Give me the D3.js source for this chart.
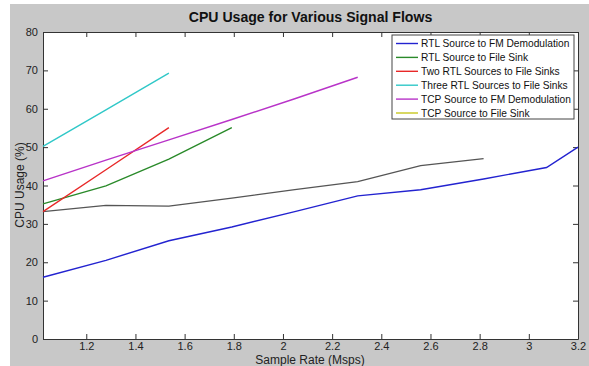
<!DOCTYPE html>
<html><head><meta charset="utf-8">
<script src="https://cdn.jsdelivr.net/npm/d3@7"></script>
<style>body{margin:0;background:#fff;}svg{display:block;font-family:Arial,"Liberation Sans",sans-serif;}</style>
</head><body>
<svg id="c" width="589" height="366"></svg>
<script>
const rates = [1.024, 1.28, 1.536, 1.792, 2.048, 2.304, 2.56, 2.816, 3.072, 3.2];
const seriesNames = ["RTL Source to FM Demodulation","RTL Source to File Sink","Two RTL Sources to File Sinks","Three RTL Sources to File Sinks","TCP Source to FM Demodulation","TCP Source to File Sink"];
const seriesColors = ["#2323d0","#2a8a2a","#e82828","#30c8c8","#b833c8","#c8c820"];
const rtlFm = [16.1, 20.5, 25.6, 29.2, 33.2, 37.3, 38.9, 41.7, 44.7, 50];
const rtlFile = [35.2, 39.9, 46.9, 55.1];
const twoRtl = [33.2, 44.1, 55.1];
const threeRtl = [50.2, 59.7, 69.3];
const tcpFm = [41.2, 46.6, 51.9, 57.2, 62.6, 68.2];
const extraGray = [33.2, 34.8, 34.6, 36.7, 38.9, 41.0, 45.2, 47.0];
const xTicks = [1.2, 1.4, 1.6, 1.8, 2, 2.2, 2.4, 2.6, 2.8, 3, 3.2];
const yTicks = [0, 10, 20, 30, 40, 50, 60, 70, 80];

const svg = d3.select("#c");
const L = 43, R = 578, T = 32, B = 339;
const x = d3.scaleLinear().domain([1.024, 3.2]).range([L, R]);
const y = d3.scaleLinear().domain([0, 80]).range([B, T]);

svg.append("rect").attr("x",10).attr("y",4).attr("width",579).attr("height",362).attr("fill","#c8c8c8");
svg.append("rect").attr("x",L).attr("y",T).attr("width",R-L).attr("height",B-T).attr("fill","#fff");

const axCol = "#333";
const fmt = d => d3.format("")(d);
const xb = svg.append("g").attr("transform",`translate(0,${B})`)
  .call(d3.axisBottom(x).tickValues(xTicks).tickSizeInner(-5).tickSizeOuter(0).tickPadding(3).tickFormat(fmt));
const xt = svg.append("g").attr("transform",`translate(0,${T})`)
  .call(d3.axisTop(x).tickValues(xTicks).tickSizeInner(-5).tickSizeOuter(0).tickFormat(""));
const yl = svg.append("g").attr("transform",`translate(${L},0)`)
  .call(d3.axisLeft(y).tickValues(yTicks).tickSizeInner(-5).tickSizeOuter(0).tickPadding(5));
const yr = svg.append("g").attr("transform",`translate(${R},0)`)
  .call(d3.axisRight(y).tickValues(yTicks).tickSizeInner(-5).tickSizeOuter(0).tickFormat(""));
[xb,xt,yl,yr].forEach(g=>{
  g.selectAll("path.domain").attr("stroke",axCol).attr("stroke-width",1);
  g.selectAll("line").attr("stroke",axCol);
  g.selectAll("text").attr("fill","#222").attr("font-size",11).attr("font-family","Arial, 'Liberation Sans', sans-serif");
});

const line = d3.line().x((d,i)=>x(rates[i])).y(d=>y(d));
const plot = svg.append("g");
plot.append("path").datum(extraGray).attr("d",line).attr("fill","none").attr("stroke","#555").attr("stroke-width",1.3);
const data = [rtlFm, rtlFile, twoRtl, threeRtl, tcpFm];
data.forEach((s,k)=>{
  plot.append("path").datum(s).attr("d",line).attr("fill","none").attr("stroke",seriesColors[k]).attr("stroke-width",1.4);
});

svg.append("text").attr("x",310.5).attr("y",22).attr("text-anchor","middle").attr("font-weight","bold").attr("font-size",14.1).attr("fill","#111").text("CPU Usage for Various Signal Flows");
svg.append("text").attr("x",310).attr("y",363.5).attr("text-anchor","middle").attr("font-size",12).attr("fill","#222").text("Sample Rate (Msps)");
svg.append("text").attr("transform",`translate(24,185) rotate(-90)`).attr("text-anchor","middle").attr("font-size",12).attr("fill","#222").text("CPU Usage (%)");

const lg = svg.append("g");
lg.append("rect").attr("x",392).attr("y",35).attr("width",182).attr("height",84).attr("fill","#fff").attr("stroke","#444").attr("stroke-width",1);
seriesNames.forEach((n,i)=>{
  const yy = 43.5 + i*13.9;
  lg.append("line").attr("x1",396).attr("x2",418).attr("y1",yy).attr("y2",yy).attr("stroke",seriesColors[i]).attr("stroke-width",1.4);
  lg.append("text").attr("x",421).attr("y",yy+3.8).attr("font-size",10.2).attr("fill","#111").text(n);
});
</script>
</body></html>
